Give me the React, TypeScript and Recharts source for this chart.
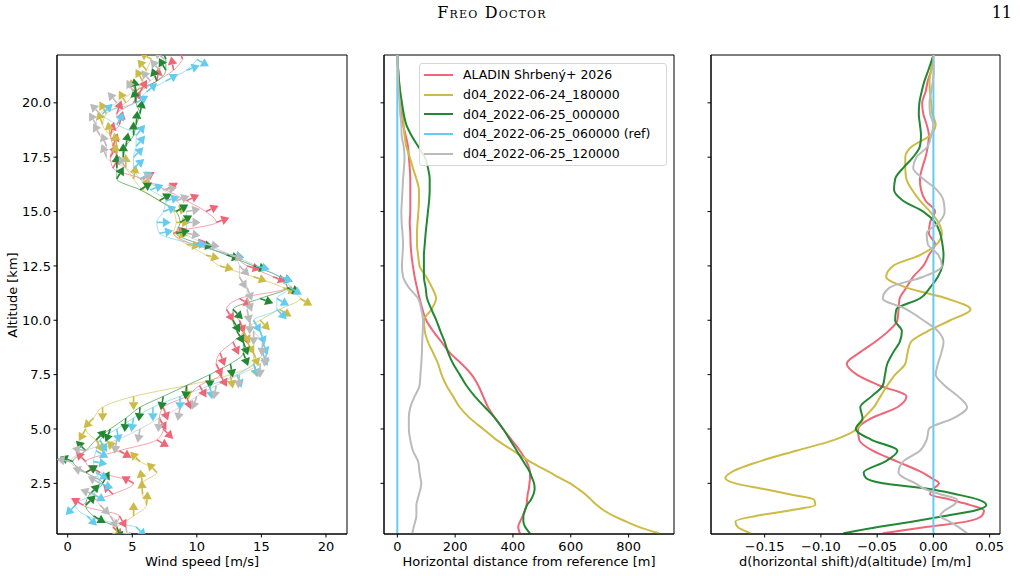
import { LineChart, Line, XAxis, YAxis, ReferenceArea, Legend } from "recharts";

const seriesNames = [
  "ALADIN Shrbený+ 2026",
  "d04_2022-06-24_180000",
  "d04_2022-06-25_000000",
  "d04_2022-06-25_060000 (ref)",
  "d04_2022-06-25_120000",
];
const seriesKeys = ["aladin", "run18", "run00", "ref", "run12"];
const seriesColors = ["#EE6677", "#CCBB44", "#228833", "#66CCEE", "#BBBBBB"];

// wind profile levels [km]
const windAlt = [
  0.5, 1.0, 1.5, 2.0, 2.5, 3.0, 3.5, 4.0, 4.5, 5.0, 5.5, 6.0, 6.5, 7.0, 7.5,
  8.0, 8.5, 9.0, 9.5, 10.0, 10.5, 11.0, 11.5, 12.0, 12.5, 13.0, 13.5, 14.0,
  14.5, 15.0, 15.5, 16.0, 16.5, 17.0, 17.5, 18.0, 18.5, 19.0, 19.5, 20.0,
  20.5, 21.0, 21.5, 22.0,
];

// wind speed [m/s]
const speedAladin = [3.5, 4.0, 1.2, 3.5, 5.1, 2.5, 1.4, 4.0, 6.9, 7.4, 7.1, 7.4, 9.2, 10.2, 11.8, 11.5, 11.8, 12.8, 13.6, 13.3, 12.3, 13.3, 17.0, 15.9, 13.9, 12.6, 9.7, 8.2, 11.5, 10.7, 9.2, 7.6, 5.8, 3.5, 3.3, 3.5, 3.3, 4.0, 3.8, 5.1, 5.6, 6.9, 8.2, 8.9];
const speedRun18 = [3.8, 5.1, 6.1, 5.8, 5.8, 6.9, 5.6, 3.8, 2.2, 1.4, 2.0, 2.7, 5.1, 9.2, 12.6, 14.4, 14.4, 13.9, 13.6, 14.9, 16.4, 18.0, 16.7, 14.4, 11.8, 10.7, 9.2, 8.2, 8.4, 8.2, 7.1, 5.8, 5.1, 4.5, 3.8, 3.8, 3.3, 2.7, 3.0, 4.5, 5.3, 5.8, 6.1, 6.5];
const speedRun00 = [3.8, 2.0, 1.4, 1.7, 2.7, 1.4, 0.4, 1.4, 2.2, 3.3, 4.5, 5.6, 7.4, 9.2, 11.0, 12.6, 13.6, 13.6, 13.1, 12.8, 12.8, 14.9, 17.0, 16.4, 14.4, 12.3, 10.2, 8.4, 8.7, 8.4, 7.1, 5.6, 3.8, 3.8, 4.3, 4.5, 5.1, 5.3, 5.6, 5.3, 5.3, 6.9, 7.6, 7.6];
const speedRef = [5.3, 1.5, 0.6, 2.0, 2.5, 2.2, 2.0, 2.2, 2.5, 3.8, 5.1, 6.6, 8.7, 11.0, 13.1, 14.4, 15.1, 15.1, 14.9, 14.4, 16.2, 16.2, 17.2, 16.4, 14.6, 12.6, 9.7, 7.1, 6.9, 7.4, 7.6, 6.4, 5.6, 5.1, 5.1, 5.3, 5.3, 3.8, 2.7, 5.3, 6.1, 7.6, 9.2, 10.0];
const speedRun12 = [4.5, 3.3, 2.5, 2.0, 2.5, 1.4, 0.2, 1.4, 3.8, 5.6, 7.1, 8.7, 10.0, 11.5, 13.3, 14.9, 15.4, 15.1, 14.4, 14.1, 13.9, 13.9, 13.9, 13.3, 13.3, 12.6, 10.7, 9.2, 9.2, 9.2, 8.4, 7.4, 5.6, 4.5, 3.0, 3.0, 2.5, 2.2, 2.5, 3.8, 5.1, 6.4, 7.1, 7.5];

// arrow heading, degrees counter-clockwise from +x (east)
const dirAladin = [-45, -60, 150, 135, 150, 150, 135, -30, -30, -45, -60, -70, -70, -60, -60, -65, -70, -65, -70, -70, -60, -30, -20, -20, -15, -10, 10, 20, 20, 25, 25, 30, 30, 60, 60, 70, 75, 75, 70, 60, 60, 80, 100, 110];
const dirRun18 = [-90, 90, 85, 95, 100, 135, 135, 135, -60, -120, -135, -90, -90, -80, -80, -75, -70, -60, -60, -45, -30, -30, -20, -20, -15, -15, -10, -10, 0, 15, 30, 60, 80, 90, 100, 100, 100, 110, 120, 120, 115, 120, 130, 150];
const dirRun00 = [-70, -30, 45, 45, 60, 30, 160, 135, 45, -110, -95, -95, -100, -95, -90, -80, -70, -70, -60, -60, -45, -20, -20, -20, -15, -15, -10, 10, 30, 30, 30, 30, 60, 90, 90, 80, 90, 85, 80, 100, 100, 110, 120, 110];
const dirRef = [-45, -45, -135, -30, -20, -30, -10, -30, -60, -80, -100, -90, -90, -80, -70, -70, -70, -70, -70, -60, -45, -30, -30, -20, -15, -10, 0, 10, 0, 20, 15, 20, 30, 40, 45, 50, 50, 60, 45, 30, 40, 30, 20, -30];
const dirRun12 = [-80, -60, -45, 160, 150, 160, 170, 170, -100, -100, -95, -100, -110, -100, -95, -90, -100, -95, -90, -90, -80, -70, -70, -60, -45, -20, -10, -10, 0, 10, 20, 10, 20, 120, 110, 110, 120, 120, 135, 130, 120, 130, 130, 140];

// trajectory levels [km]
const shiftAlt = [
  0.2, 0.5, 0.75, 1.0, 1.25, 1.5, 1.75, 2.0, 2.25, 2.5, 2.75, 3.0, 3.5, 4.0,
  4.5, 5.0, 5.5, 6.0, 6.5, 7.0, 7.5, 8.0, 8.5, 9.0, 9.5, 10.0, 10.5, 11.0,
  11.5, 12.0, 12.5, 13.0, 13.5, 14.0, 14.5, 15.0, 15.5, 16.0, 16.5, 17.0,
  17.5, 18.0, 18.5, 19.0, 19.5, 20.0, 20.5, 21.0, 21.5, 22.2,
];

// horizontal distance from the reference run [m]
const distAladin = [424, 418, 425, 434, 442, 447, 449, 451, 455, 457, 459, 459, 447, 424, 395, 366, 338, 314, 297, 280, 257, 222, 182, 153, 124, 100, 87, 77, 68, 60, 54, 49, 46, 45, 43, 45, 45, 45, 45, 43, 40, 37, 29, 20, 16, 12, 8, 5, 3, 0];
const distRun18 = [905, 835, 790, 748, 715, 690, 670, 650, 625, 598, 562, 528, 459, 401, 343, 297, 251, 216, 193, 170, 153, 141, 124, 106, 95, 92, 118, 134, 120, 100, 77, 72, 68, 68, 70, 73, 75, 75, 66, 54, 43, 31, 25, 22, 18, 14, 10, 6, 3, 0];
const distRun00 = [459, 442, 436, 436, 441, 449, 462, 471, 475, 473, 466, 459, 436, 413, 390, 366, 338, 303, 268, 239, 216, 193, 176, 164, 149, 135, 118, 103, 98, 92, 92, 92, 95, 98, 102, 106, 110, 112, 112, 106, 95, 72, 49, 31, 22, 16, 10, 6, 3, 0];
const distRef = [0, 0, 0, 0, 0, 0, 0, 0, 0, 0, 0, 0, 0, 0, 0, 0, 0, 0, 0, 0, 0, 0, 0, 0, 0, 0, 0, 0, 0, 0, 0, 0, 0, 0, 0, 0, 0, 0, 0, 0, 0, 0, 0, 0, 0, 0, 0, 0, 0, 0];
const distRun12 = [52, 57, 62, 66, 66, 66, 70, 75, 80, 83, 80, 77, 72, 54, 45, 40, 40, 45, 60, 77, 80, 83, 85, 86, 88, 89, 83, 72, 40, 20, 16, 18, 20, 18, 15, 14, 16, 18, 20, 23, 25, 22, 15, 14, 10, 8, 5, 3, 2, 0];

// vertical derivative of the shift [m/m]
const slopeAladin = [-0.045, -0.005, 0.03, 0.043, 0.045, 0.033, 0.015, -0.003, 0.0, 0.005, -0.002, -0.01, -0.032, -0.054, -0.066, -0.067, -0.055, -0.032, -0.024, -0.048, -0.068, -0.077, -0.066, -0.052, -0.04, -0.032, -0.031, -0.03, -0.024, -0.018, -0.009, -0.004, 0.0015, -0.004, -0.003, 0.0015, -0.007, -0.011, -0.012, -0.01, -0.007, -0.005, -0.004, -0.006, -0.009, -0.01, -0.007, -0.005, -0.002, 0];
const slopeRun18 = [-0.162, -0.174, -0.176, -0.158, -0.128, -0.105, -0.106, -0.128, -0.152, -0.176, -0.185, -0.18, -0.155, -0.122, -0.088, -0.068, -0.062, -0.053, -0.047, -0.041, -0.034, -0.025, -0.023, -0.02, -0.005, 0.015, 0.033, 0.012, -0.024, -0.042, -0.036, -0.012, 0.003, 0.0075, 0.0045, -0.003, -0.012, -0.019, -0.024, -0.025, -0.025, -0.019, -0.003, 0.002, -0.001, -0.002, -0.003, -0.0035, -0.002, 0];
const slopeRun00 = [-0.08, -0.048, -0.018, 0.01, 0.037, 0.047, 0.04, 0.02, -0.005, -0.045, -0.06, -0.062, -0.043, -0.032, -0.055, -0.069, -0.063, -0.065, -0.055, -0.045, -0.043, -0.041, -0.036, -0.03, -0.028, -0.034, -0.033, -0.012, -0.003, 0.004, 0.008, 0.009, 0.008, 0.006, 0.0015, -0.009, -0.027, -0.035, -0.034, -0.027, -0.018, -0.012, -0.011, -0.012, -0.013, -0.0125, -0.0105, -0.008, -0.0045, 0];
const slopeRef = [0, 0, 0, 0, 0, 0, 0, 0, 0, 0, 0, 0, 0, 0, 0, 0, 0, 0, 0, 0, 0, 0, 0, 0, 0, 0, 0, 0, 0, 0, 0, 0, 0, 0, 0, 0, 0, 0, 0, 0, 0, 0, 0, 0, 0, 0, 0, 0, 0, 0];
const slopeRun12 = [0.03, 0.022, 0.014, 0.006, 0.01, 0.018, 0.021, 0.006, -0.008, -0.016, -0.026, -0.031, -0.027, -0.012, -0.006, -0.004, 0.018, 0.03, 0.022, 0.01, 0.002, 0.004, 0.007, 0.009, 0.004, -0.009, -0.024, -0.045, -0.039, -0.009, 0.0075, 0.0045, -0.005, -0.006, 0.005, 0.01, 0.009, 0.003, -0.009, -0.018, -0.015, -0.005, -0.002, 0.0, -0.003, -0.0035, -0.002, -0.0005, 0.0005, 0];

const altTicks = [2.5, 5, 7.5, 10, 12.5, 15, 17.5, 20];
const speedTicks = [0, 5, 10, 15, 20];
const distTicks = [0, 200, 400, 600, 800];
const slopeTicks = [-0.15, -0.1, -0.05, 0, 0.05];

const altDomain: [number, number] = [0.17, 22.2];
const speedDomain: [number, number] = [-0.83, 21.63];
const distDomain: [number, number] = [-46, 957];
const slopeDomain: [number, number] = [-0.1977, 0.0592];

function toRows(alt: number[], cols: number[][]) {
  return alt.map((a, i) => {
    const row: Record<string, number> = { alt: a };
    seriesKeys.forEach((k, s) => {
      row[k] = cols[s][i];
    });
    return row;
  });
}

const windRows = toRows(windAlt, [speedAladin, speedRun18, speedRun00, speedRef, speedRun12]);
const windDirs = [dirAladin, dirRun18, dirRun00, dirRef, dirRun12];
const distRows = toRows(shiftAlt, [distAladin, distRun18, distRun00, distRef, distRun12]);
const slopeRows = toRows(shiftAlt, [slopeAladin, slopeRun18, slopeRun00, slopeRef, slopeRun12]);

const FONT = "'DejaVu Sans', sans-serif";
const FS = 13;
const tickStyle = { fill: "#000", fontSize: FS, fontFamily: FONT };
const PLOT_W = 290;
const PLOT_TOP = 55;
const PLOT_H = 479;
const CHART_H = 576;

function arrowDot(dirs: number[], color: string, id: string) {
  return (p: any) => {
    const { cx, cy, index } = p;
    if (cx == null || cy == null) return <g key={`${id}-${index}`} />;
    const a = (dirs[index] * Math.PI) / 180;
    const ux = Math.cos(a);
    const uy = -Math.sin(a);
    const len = 14;
    const headL = 8;
    const headW = 4.8;
    const tx = cx + ux * len;
    const ty = cy + uy * len;
    const bx = tx - ux * headL;
    const by = ty - uy * headL;
    const nx = -uy;
    const ny = ux;
    return (
      <g key={`${id}-${index}`}>
        <line x1={cx} y1={cy} x2={bx} y2={by} stroke={color} strokeWidth={1.6} />
        <polygon
          points={`${tx},${ty} ${bx + nx * headW},${by + ny * headW} ${bx - nx * headW},${by - ny * headW}`}
          fill={color}
        />
      </g>
    );
  };
}

function fmtSlope(v: number) {
  const s = Math.abs(v).toFixed(2);
  return v < -1e-9 ? `\u2212${s}` : s;
}

function LegendBox() {
  return (
    <div
      style={{
        width: 248,
        height: 103,
        border: "1px solid #d6d6d6",
        borderRadius: 3,
        background: "rgba(255,255,255,0.85)",
        fontFamily: FONT,
        fontSize: 12.5,
        color: "#000",
        boxSizing: "border-box",
        paddingTop: 1,
      }}
    >
      {seriesNames.map((name, i) => (
        <div key={name} style={{ display: "flex", alignItems: "center", height: 19.7 }}>
          <div style={{ width: 29, height: 2, marginLeft: 4, background: seriesColors[i] }} />
          <span style={{ marginLeft: 10, whiteSpace: "nowrap" }}>{name}</span>
        </div>
      ))}
    </div>
  );
}

function frame(x: [number, number]) {
  return (
    <ReferenceArea
      x1={x[0]}
      x2={x[1]}
      y1={altDomain[0]}
      y2={altDomain[1]}
      fill="none"
      stroke="#000"
      strokeWidth={1}
      ifOverflow="visible"
    />
  );
}

function altAxis(width: number, labels: boolean) {
  return (
    <YAxis
      type="number"
      dataKey="alt"
      domain={altDomain}
      allowDataOverflow
      reversed
      ticks={altTicks}
      width={width}
      tickSize={3.5}
      tickMargin={2.5}
      tick={tickStyle}
      tickFormatter={labels ? (v: number) => v.toFixed(1) : () => ""}
      axisLine={{ stroke: "#000" }}
      tickLine={{ stroke: "#000" }}
    />
  );
}

const label = (left: number, text: string) => (
  <div
    style={{
      position: "absolute",
      left,
      top: 553,
      transform: "translateX(-50%)",
      whiteSpace: "nowrap",
      fontFamily: FONT,
      fontSize: FS,
      lineHeight: "17px",
    }}
  >
    {text}
  </div>
);

export default function App() {
  return (
    <div style={{ position: "absolute", left: 0, top: 0, width: 1020, height: 576, background: "#fff" }}>
      <div
        style={{
          position: "absolute",
          left: 492,
          top: 3,
          transform: "translateX(-50%)",
          fontFamily: "'DejaVu Serif', serif",
          fontVariant: "small-caps",
          fontSize: 16,
          letterSpacing: 1.2,
          whiteSpace: "nowrap",
        }}
      >
        Freo Doctor
      </div>
      <div style={{ position: "absolute", right: 8, top: 3, fontFamily: "'DejaVu Serif', serif", fontSize: 16 }}>11</div>

      {/* wind speed profile with heading arrows */}
      <div style={{ position: "absolute", left: 0, top: 0 }}>
        <LineChart
          layout="vertical"
          width={57 + PLOT_W + 10}
          height={CHART_H}
          data={windRows}
          margin={{ top: PLOT_TOP, right: 10, bottom: CHART_H - PLOT_TOP - PLOT_H - 30, left: 0 }}
        >
          <XAxis
            type="number"
            domain={speedDomain}
            allowDataOverflow
            ticks={speedTicks}
            tickSize={3.5}
            tickMargin={4}
            tick={tickStyle}
            axisLine={{ stroke: "#000" }}
            tickLine={{ stroke: "#000" }}
          />
          {altAxis(57, true)}
          {seriesKeys.map((k, s) => (
            <Line
              key={k}
              dataKey={k}
              type="monotone"
              stroke={seriesColors[s]}
              strokeWidth={1}
              strokeOpacity={0.6}
              dot={arrowDot(windDirs[s], seriesColors[s], k)}
              activeDot={false}
              isAnimationActive={false}
            />
          ))}
          {frame(speedDomain)}
        </LineChart>
      </div>

      {/* distance from reference trajectory */}
      <div style={{ position: "absolute", left: 364, top: 0 }}>
        <LineChart
          layout="vertical"
          width={20 + PLOT_W + 10}
          height={CHART_H}
          data={distRows}
          margin={{ top: PLOT_TOP, right: 10, bottom: CHART_H - PLOT_TOP - PLOT_H - 30, left: 0 }}
        >
          <XAxis
            type="number"
            domain={distDomain}
            allowDataOverflow
            ticks={distTicks}
            tickSize={3.5}
            tickMargin={4}
            tick={tickStyle}
            axisLine={{ stroke: "#000" }}
            tickLine={{ stroke: "#000" }}
          />
          {altAxis(20, false)}
          {seriesKeys.map((k, s) => (
            <Line
              key={k}
              dataKey={k}
              name={seriesNames[s]}
              type="monotone"
              stroke={seriesColors[s]}
              strokeWidth={2}
              dot={false}
              activeDot={false}
              isAnimationActive={false}
            />
          ))}
          {frame(distDomain)}
          <Legend
            layout="vertical"
            align="center"
            verticalAlign="middle"
            wrapperStyle={{ left: 55, top: 63, width: 248, height: 103 }}
            content={() => <LegendBox />}
          />
        </LineChart>
      </div>

      {/* vertical derivative of the shift */}
      <div style={{ position: "absolute", left: 690, top: 0 }}>
        <LineChart
          layout="vertical"
          width={21 + PLOT_W + 9}
          height={CHART_H}
          data={slopeRows}
          margin={{ top: PLOT_TOP, right: 10, bottom: CHART_H - PLOT_TOP - PLOT_H - 30, left: 0 }}
        >
          <XAxis
            type="number"
            domain={slopeDomain}
            allowDataOverflow
            ticks={slopeTicks}
            tickSize={3.5}
            tickMargin={4}
            tick={tickStyle}
            tickFormatter={fmtSlope}
            axisLine={{ stroke: "#000" }}
            tickLine={{ stroke: "#000" }}
          />
          {altAxis(21, false)}
          {seriesKeys.map((k, s) => (
            <Line
              key={k}
              dataKey={k}
              type="monotone"
              stroke={seriesColors[s]}
              strokeWidth={2}
              dot={false}
              activeDot={false}
              isAnimationActive={false}
            />
          ))}
          {frame(slopeDomain)}
        </LineChart>
      </div>

      {label(202, "Wind speed [m/s]")}
      {label(529, "Horizontal distance from reference [m]")}
      {label(855, "d(horizontal shift)/d(altitude) [m/m]")}
      <div
        style={{
          position: "absolute",
          left: 12,
          top: 295,
          transform: "translate(-50%, -50%) rotate(-90deg)",
          whiteSpace: "nowrap",
          fontFamily: FONT,
          fontSize: FS,
          lineHeight: "17px",
        }}
      >
        Altitude [km]
      </div>
    </div>
  );
}
